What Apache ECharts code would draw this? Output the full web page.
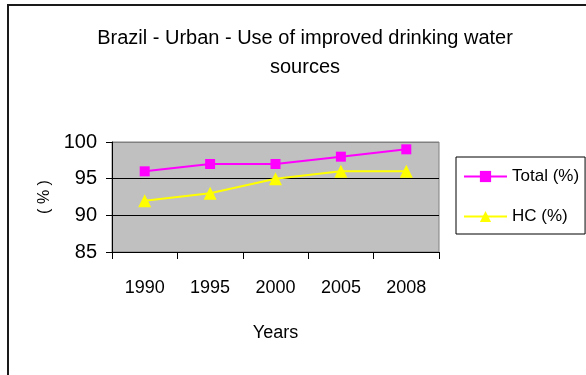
<!DOCTYPE html>
<html>
<head>
<meta charset="utf-8">
<script src="https://cdn.jsdelivr.net/npm/echarts@6/dist/echarts.min.js"></script>
<style>
  html, body { margin: 0; padding: 0; background: #fff; }
  #chart { width: 586px; height: 375px; }
</style>
</head>
<body>
<div id="chart"></div>
<script>
// Urban access to improved drinking water, Brazil
const years = ['1990', '1995', '2000', '2005', '2008'];
const totalPct = [96, 97, 97, 98, 99];
const hcPct = [92, 93, 95, 96, 96];
const yTicks = { min: 85, max: 100, step: 5 };

const FONT = "'Liberation Sans', Arial, sans-serif";

const chart = echarts.init(document.getElementById('chart'), null, { renderer: 'canvas' });

chart.setOption({
  backgroundColor: '#ffffff',
  animation: false,
  textStyle: { fontFamily: FONT, color: '#000' },
  graphic: [{
    type: 'rect',
    shape: { x: 8, y: 5, width: 700, height: 500 },
    style: { fill: 'none', stroke: '#1a1a1a', lineWidth: 2 },
    silent: true,
    z: -1
  }],
  title: {
    text: 'Brazil - Urban - Use of improved drinking water\nsources',
    left: 300,
    top: 19,
    textAlign: 'center',
    textStyle: {
      fontFamily: FONT,
      fontSize: 20,
      fontWeight: 'normal',
      color: '#000',
      lineHeight: 29
    }
  },
  legend: {
    orient: 'vertical',
    left: 456,
    top: 157,
    padding: [9, 6, 7, 7],
    itemWidth: 43,
    itemHeight: 14,
    itemGap: 19,
    borderColor: '#000',
    borderWidth: 1,
    textStyle: { fontFamily: FONT, fontSize: 17, color: '#000', lineHeight: 21 },
    data: ['Total (%)', 'HC (%)']
  },
  grid: {
    left: 112,
    top: 142,
    right: 147,
    bottom: 123,
    show: true,
    backgroundColor: '#c0c0c0',
    borderColor: '#808080',
    borderWidth: 1
  },
  xAxis: {
    type: 'category',
    data: years,
    boundaryGap: true,
    name: 'Years',
    nameLocation: 'middle',
    nameGap: 72,
    nameTextStyle: { fontFamily: FONT, fontSize: 18, color: '#000' },
    axisLine: { show: true, lineStyle: { color: '#000', width: 1 } },
    axisTick: { show: true, length: 7, lineStyle: { color: '#000' } },
    axisLabel: { margin: 27, fontFamily: FONT, fontSize: 18, color: '#000' },
    splitLine: { show: false }
  },
  yAxis: {
    type: 'value',
    min: yTicks.min,
    max: yTicks.max,
    interval: yTicks.step,
    name: '( % )',
    nameLocation: 'middle',
    nameRotate: 90,
    nameGap: 50,
    nameTextStyle: { fontFamily: FONT, fontSize: 16, color: '#000' },
    axisLine: { show: true, lineStyle: { color: '#000', width: 1 } },
    axisTick: { show: true, length: 6, lineStyle: { color: '#000' } },
    axisLabel: { margin: 15, fontFamily: FONT, fontSize: 20, color: '#000' },
    splitLine: { show: true, lineStyle: { color: ['#000', '#000', '#000', '#808080'], width: 1 } }
  },
  series: [
    {
      name: 'Total (%)',
      type: 'line',
      data: totalPct,
      symbol: 'rect',
      symbolSize: 10,
      lineStyle: { color: '#ff00ff', width: 2 },
      itemStyle: { color: '#ff00ff' }
    },
    {
      name: 'HC (%)',
      type: 'line',
      data: hcPct,
      symbol: 'triangle',
      symbolSize: 13,
      lineStyle: { color: '#ffff00', width: 2 },
      itemStyle: { color: '#ffff00' }
    }
  ]
});
</script>
</body>
</html>
